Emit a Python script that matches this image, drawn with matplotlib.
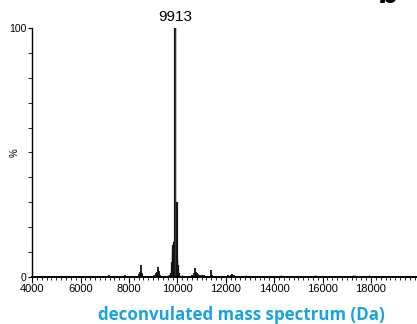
import numpy as np
import matplotlib.pyplot as plt
from matplotlib.ticker import MultipleLocator, FixedLocator

# deconvoluted spectrum, stick peaks (mass in Da, relative intensity in %)
cluster_mass = [9680, 9700, 9730, 9760, 9790, 9810, 9825, 9840, 9855, 9870, 9885, 9900,
                9913, 9925, 9940, 9955, 9970, 9985, 10000, 10015, 10030, 10050, 10070]
cluster_int = [0.6, 0.8, 1.5, 3.0, 6.0, 11.0, 8.0, 13.0, 9.0, 14.0, 10.0, 15.0,
               100.0, 12.0, 11.0, 9.0, 7.0, 30.0, 7.0, 5.0, 3.0, 1.5, 0.8]

minor_mass = [7180, 7760, 7820,
              8420, 8470, 8492, 8520, 8560,
              9050, 9100, 9150, 9180, 9207, 9230, 9260, 9300,
              10600, 10680, 10735, 10770, 10820, 10870, 10950, 11020, 11100,
              11380, 11420,
              12100, 12200, 12260, 12320]
minor_int = [0.9, 0.6, 0.7,
             1.2, 2.0, 4.8, 1.5, 0.8,
             1.0, 1.6, 2.2, 3.0, 3.9, 2.5, 1.8, 0.9,
             1.0, 1.8, 3.5, 2.2, 1.6, 1.2, 0.9, 1.0, 0.7,
             3.0, 0.8,
             0.8, 1.0, 1.2, 0.7]

noise_mass = [4150, 4400, 4650, 4900, 5150, 5400, 5650, 5900, 6150, 6400, 6650,
              6900, 7400, 7650, 8000, 8250, 8700, 8900, 9450, 9600, 10200, 10400,
              11250, 11600, 11850, 12500, 12850, 13100, 13350, 13600, 13850,
              14100, 14300, 14450, 14700, 14950, 15200, 15450, 15700, 15850,
              16100, 16350, 16600, 16850, 17100, 17250, 17350, 17600, 17900,
              18000, 18250, 18500, 18750, 19000, 19250, 19500, 19750]
noise_int = [0.4, 0.3, 0.5, 0.3, 0.4, 0.3, 0.5, 0.3, 0.4, 0.3, 0.4,
             0.5, 0.4, 0.5, 0.4, 0.5, 0.6, 0.5, 0.6, 0.7, 0.8, 0.6,
             0.5, 0.6, 0.5, 0.5, 0.7, 0.4, 0.5, 0.4, 0.5,
             0.4, 0.9, 0.6, 0.4, 0.5, 0.4, 0.5, 0.9, 0.5,
             0.4, 0.5, 0.4, 0.5, 0.6, 1.0, 0.7, 0.4, 0.9,
             0.6, 0.4, 0.5, 0.4, 0.5, 0.4, 0.5, 0.6]

peak_label = 9913
x_ticks = [4000, 6000, 8000, 10000, 12000, 14000, 16000, 18000]

plt.rcParams['font.family'] = ['Liberation Sans', 'DejaVu Sans']

fig = plt.figure(figsize=(4.17, 3.24), dpi=100)
ax = fig.add_axes([0.077, 0.145, 0.923, 0.769])

ax.vlines(noise_mass, 0, noise_int, color='#222222', lw=1.0)
ax.vlines(minor_mass, 0, minor_int, color='#111111', lw=1.3)
ax.vlines(cluster_mass, 0, cluster_int, color='#111111', lw=1.6)
ax.vlines([peak_label], 0, [100], color='#333333', lw=1.0)

ax.text(peak_label, 101.5, str(peak_label), ha='center', va='bottom', fontsize=11)

ax.set_xlim(4000, 19900)
ax.set_ylim(0, 100)
for s in ['top', 'right']:
    ax.spines[s].set_visible(False)
ax.spines['left'].set_linewidth(1.0)
ax.spines['bottom'].set_linewidth(1.4)

ax.xaxis.set_major_locator(FixedLocator(x_ticks))
ax.xaxis.set_minor_locator(MultipleLocator(200))
ax.yaxis.set_major_locator(FixedLocator([0, 100]))
ax.yaxis.set_minor_locator(MultipleLocator(10))
ax.tick_params(axis='x', which='major', length=4, width=0.8, labelsize=8, pad=1)
ax.tick_params(axis='x', which='minor', length=2.5, width=0.6)
ax.tick_params(axis='y', which='major', length=3, width=0.8, labelsize=7.5, pad=1)
ax.tick_params(axis='y', which='minor', length=3, width=0.6)

ax.text(-0.045, 0.5, '%', transform=ax.transAxes, rotation=90,
        ha='center', va='center', fontsize=7)

fig.text(0.58, 0.028, 'deconvulated mass spectrum (Da)', ha='center', va='center',
         color='#1aa3e0', fontsize=12.2, fontweight='bold', family='Open Sans')

# panel letter, mostly above the top edge
fig.text(0.905, 1 - 3 / 324, 'b', ha='left', va='baseline', fontsize=24,
         fontweight='bold', family='Liberation Sans')

fig.savefig('out.png', dpi=100)
